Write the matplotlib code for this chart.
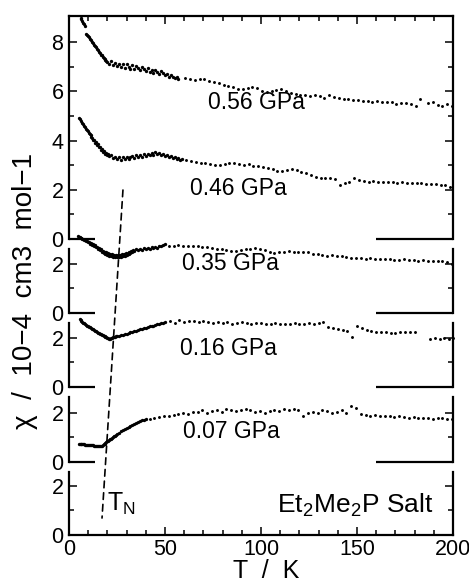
import matplotlib
matplotlib.use('Agg')
import matplotlib.pyplot as plt
from matplotlib.patches import ConnectionPatch
from matplotlib.ticker import MultipleLocator, FixedLocator

plt.rcParams['font.family'] = ['Liberation Sans', 'DejaVu Sans']
plt.rcParams['mathtext.fontset'] = 'custom'
plt.rcParams['mathtext.rm'] = 'Liberation Sans'

# ---------------- data (T / K, chi / 1e-4 cm3 mol-1) ----------------
p056_low = [(6.0, 9.00), (6.5, 8.93), (7.0, 8.86), (7.5, 8.80), (8.0, 8.72), (8.5, 8.66),
            (9.0, 8.34), (9.5, 8.30), (10.0, 8.24), (10.5, 8.22), (11.0, 8.14), (11.5, 8.10),
            (12.0, 8.02), (12.5, 7.98), (13.0, 7.90), (13.5, 7.84), (14.0, 7.80), (14.5, 7.72),
            (15.0, 7.70), (15.5, 7.60), (16.0, 7.56), (16.5, 7.50), (17.0, 7.46), (17.5, 7.38),
            (18.0, 7.36), (18.5, 7.30), (19.0, 7.28), (19.5, 7.22), (20.0, 7.20),
            (21, 7.12), (22, 7.22), (23, 7.08), (24, 7.16), (25, 7.02), (26, 7.12), (27, 6.98),
            (28, 7.10), (29, 6.94), (30, 7.12), (31, 7.00), (32, 6.92), (33, 7.08), (34, 6.90),
            (35, 7.02), (36, 6.96), (37, 6.86), (38, 6.98), (39, 6.90), (40, 6.84), (41, 6.96),
            (42, 6.80), (43, 6.88), (44, 6.76), (45, 6.86), (46, 6.80), (47, 6.70), (48, 6.82),
            (49, 6.74), (50, 6.66), (51, 6.72), (52, 6.60), (53, 6.66), (54, 6.60), (55, 6.54),
            (56, 6.60), (57, 6.50)]
p056_high = [(60.5, 6.55), (63, 6.50), (65.5, 6.45), (68, 6.50), (70.5, 6.52), (73, 6.44),
             (75.5, 6.38), (78, 6.34), (80.5, 6.28), (83, 6.20), (85.5, 6.16), (88, 6.10),
             (90.5, 6.10), (93, 6.14), (95.5, 6.18), (98, 6.14), (100.5, 6.02), (103, 5.96),
             (105.5, 6.00), (108, 6.04), (110.5, 6.08), (113, 6.00), (115.5, 5.94), (118, 5.90),
             (120.5, 5.86), (123, 5.84), (125.5, 5.80), (128, 5.84), (130.5, 5.80), (133, 5.72),
             (135.5, 5.86), (138, 5.78), (140.5, 5.72), (143, 5.70), (145.5, 5.70), (148, 5.66),
             (150.5, 5.66), (153, 5.62), (155.5, 5.60), (158, 5.58), (160.5, 5.60), (163, 5.56),
             (165.5, 5.58), (168, 5.56), (170.5, 5.50), (173, 5.52), (175.5, 5.54), (178, 5.50),
             (180.5, 5.42), (183, 5.68), (187, 5.54), (189.5, 5.56), (192, 5.46), (194.5, 5.42),
             (197, 5.48), (199.5, 5.40)]

p046_low = [(5.2, 4.92), (5.7, 4.86), (6.2, 4.79), (6.7, 4.72), (7.2, 4.66), (7.7, 4.60),
            (8.2, 4.54), (8.7, 4.48), (9.2, 4.43), (9.7, 4.38), (10.2, 4.32), (10.7, 4.27),
            (11.2, 4.22), (11.7, 4.15), (12.2, 4.12), (12.7, 4.02), (13.2, 4.04), (13.7, 3.92),
            (14.2, 3.96), (14.7, 3.82), (15.2, 3.86), (15.7, 3.72), (16.2, 3.76), (16.7, 3.62),
            (17.2, 3.66), (17.7, 3.54), (18.2, 3.58), (18.7, 3.46), (19.2, 3.50), (19.7, 3.40),
            (20.2, 3.45), (21, 3.36), (22, 3.40), (23, 3.28), (24, 3.34), (25, 3.24), (26, 3.32),
            (27, 3.22), (28, 3.32), (29, 3.25), (30, 3.34), (31, 3.26), (32, 3.32), (33, 3.36),
            (34, 3.28), (35, 3.40), (36, 3.32), (37, 3.42), (38, 3.34), (39, 3.44), (40, 3.36),
            (41, 3.46), (42, 3.40), (43, 3.48), (44, 3.40), (45, 3.52), (46, 3.44), (47, 3.50),
            (48, 3.40), (49, 3.46), (50, 3.36), (51, 3.42), (52, 3.32), (53, 3.38), (54, 3.28),
            (55, 3.34), (56, 3.26), (57, 3.30), (58, 3.22), (59, 3.26)]
p046_high = [(61, 3.20), (63.5, 3.16), (66, 3.12), (68.5, 3.10), (71, 3.08), (73.5, 3.06),
             (76, 3.02), (78.5, 3.00), (81, 3.04), (83.5, 3.08), (86, 3.10), (88.5, 3.06),
             (91, 3.00), (93.5, 3.04), (96, 2.98), (98.5, 2.96), (101, 2.92), (103.5, 2.88),
             (106, 2.84), (108.5, 2.76), (111, 2.78), (113.5, 2.80), (116, 2.84), (118.5, 2.80),
             (121, 2.72), (123.5, 2.68), (126, 2.60), (128.5, 2.54), (131, 2.50), (133.5, 2.48),
             (136, 2.46), (138.5, 2.42), (141, 2.20), (143.5, 2.26), (146, 2.30), (148.5, 2.48),
             (151, 2.40), (153.5, 2.36), (156, 2.33), (158.5, 2.34), (161, 2.32), (163.5, 2.33),
             (166, 2.31), (168.5, 2.30), (171, 2.29), (173.5, 2.30), (176, 2.28), (178.5, 2.27),
             (181, 2.26), (183.5, 2.27), (186, 2.25), (188.5, 2.22), (191, 2.24), (193.5, 2.18),
             (196, 2.20), (198.5, 2.10)]

p035_low = [(4.5, 3.15), (5, 3.10), (5.5, 3.10), (6, 3.04), (6.5, 3.06), (7, 3.00), (7.5, 3.02),
            (8, 2.96), (8.5, 2.98), (9, 2.92), (9.5, 2.94), (10, 2.88), (10.5, 2.90), (11, 2.82),
            (11.5, 2.86), (12, 2.78), (12.5, 2.80), (13, 2.72), (13.5, 2.76), (14, 2.68),
            (14.5, 2.70), (15, 2.62), (15.5, 2.66), (16, 2.56), (16.5, 2.60), (17, 2.50),
            (17.5, 2.54), (18, 2.44), (18.5, 2.48), (19, 2.40), (19.5, 2.46), (20, 2.36),
            (20.5, 2.42), (21, 2.32), (21.5, 2.40), (22, 2.30), (22.5, 2.38), (23, 2.28),
            (23.5, 2.36), (24, 2.26), (24.5, 2.34), (25, 2.27), (25.5, 2.36), (26, 2.26),
            (26.5, 2.35), (27, 2.28), (27.5, 2.38), (28, 2.30), (28.5, 2.40), (29, 2.32),
            (29.5, 2.42), (30, 2.36), (30.5, 2.44), (31, 2.40), (31.5, 2.50), (32, 2.44),
            (32.5, 2.54), (33, 2.48), (33.5, 2.56), (34, 2.52), (35, 2.60), (36, 2.56), (37, 2.62),
            (38, 2.58), (39, 2.64), (40, 2.60), (41, 2.66), (42, 2.62), (43, 2.68), (44, 2.64),
            (45, 2.70), (46, 2.66), (47, 2.74), (48, 2.72), (49, 2.78), (50, 2.80)]
p035_high = [(52, 2.74), (54.5, 2.72), (57, 2.75), (59.5, 2.72), (62, 2.73), (64.5, 2.71),
             (67, 2.74), (69.5, 2.70), (72, 2.68), (74.5, 2.64), (77, 2.60), (79.5, 2.62),
             (82, 2.56), (84.5, 2.52), (87, 2.54), (89.5, 2.58), (92, 2.60), (94.5, 2.62),
             (97, 2.64), (99.5, 2.60), (102, 2.55), (104.5, 2.48), (107, 2.44), (109.5, 2.48),
             (112, 2.50), (114.5, 2.52), (117, 2.50), (119.5, 2.47), (122, 2.50), (124.5, 2.46),
             (127, 2.40), (129.5, 2.38), (132, 2.34), (134.5, 2.32), (137, 2.36), (139.5, 2.32),
             (142, 2.30), (144.5, 2.27), (147, 2.25), (149.5, 2.24), (152, 2.22), (154.5, 2.20),
             (157, 2.22), (159.5, 2.20), (162, 2.18), (164.5, 2.20), (167, 2.19), (169.5, 2.16),
             (172, 2.15), (174.5, 2.18), (177, 2.14), (179.5, 2.15), (182, 2.13), (184.5, 2.14),
             (187, 2.11), (189.5, 2.13), (192, 2.10), (194.5, 2.12), (197, 2.06), (199.5, 2.00)]

p016_low = [(5.5, 2.75), (6, 2.72), (6.5, 2.68), (7, 2.65), (7.5, 2.62), (8, 2.60), (8.5, 2.56),
            (9, 2.54), (9.5, 2.50), (10, 2.48), (10.5, 2.45), (11, 2.42), (11.5, 2.40), (12, 2.37),
            (12.5, 2.34), (13, 2.32), (13.5, 2.29), (14, 2.26), (14.5, 2.24), (15, 2.21),
            (15.5, 2.19), (16, 2.16), (16.5, 2.14), (17, 2.12), (17.5, 2.10), (18, 2.08),
            (18.5, 2.06), (19, 2.04), (19.5, 2.02), (20, 2.00), (20.5, 1.98), (21, 1.97),
            (21.5, 1.96), (22, 1.99), (22.5, 2.01), (23, 2.02), (23.5, 2.03), (24, 2.05),
            (24.5, 2.06), (25, 2.07), (26, 2.09), (27, 2.11), (28, 2.13), (29, 2.15), (30, 2.17),
            (31, 2.20), (32, 2.22), (33, 2.24), (34, 2.26), (35, 2.29), (36, 2.31), (37, 2.34),
            (38, 2.36), (39, 2.39), (40, 2.41), (41, 2.44), (42, 2.46), (43, 2.48), (44, 2.50),
            (45, 2.52), (46, 2.55), (47, 2.57), (48, 2.60), (49, 2.62), (50, 2.65)]
p016_high = [(52.5, 2.68), (55, 2.62), (57.5, 2.72), (60, 2.65), (62.5, 2.70), (65, 2.68),
             (67.5, 2.64), (70, 2.70), (72.5, 2.65), (75, 2.62), (77.5, 2.66), (80, 2.60),
             (82.5, 2.63), (85, 2.58), (87.5, 2.61), (90, 2.64), (92.5, 2.60), (95, 2.57),
             (97.5, 2.62), (100, 2.60), (102.5, 2.56), (105, 2.58), (107.5, 2.62), (110, 2.58),
             (112.5, 2.55), (115, 2.58), (117.5, 2.60), (120, 2.56), (122.5, 2.58), (125, 2.62),
             (127.5, 2.58), (130, 2.60), (132.5, 2.64), (135, 2.42), (137.5, 2.38), (140, 2.34),
             (142.5, 2.30), (145, 2.26), (147.5, 2.02), (150, 2.46), (152.5, 2.40), (155, 2.30),
             (157.5, 2.26), (160, 2.24), (162.5, 2.22), (165, 2.23), (167.5, 2.21), (170, 2.20),
             (172.5, 2.22), (175, 2.24), (177.5, 2.22), (180, 2.25), (188, 1.96), (190.5, 1.99),
             (193, 1.95), (195.5, 2.00), (198, 1.97), (200, 2.00)]

p007_low = [(5, 0.75), (5.5, 0.74), (6, 0.74), (6.5, 0.73), (7, 0.73), (7.5, 0.72), (8, 0.72),
            (8.5, 0.71), (9, 0.71), (9.5, 0.70), (10, 0.70), (10.5, 0.70), (11, 0.69), (11.5, 0.69),
            (12, 0.68), (12.5, 0.68), (13, 0.67), (13.5, 0.67), (14, 0.66), (14.5, 0.66),
            (15, 0.65), (15.5, 0.65), (16, 0.64), (16.5, 0.64), (17, 0.65), (17.5, 0.68),
            (18, 0.72), (18.5, 0.75), (19, 0.78), (19.5, 0.81), (20, 0.84), (20.5, 0.87),
            (21, 0.89), (21.5, 0.92), (22, 0.95), (22.5, 0.98), (23, 1.01), (23.5, 1.04),
            (24, 1.07), (24.5, 1.10), (25, 1.13), (26, 1.18), (27, 1.24), (28, 1.29), (29, 1.34),
            (30, 1.39), (31, 1.44), (32, 1.48), (33, 1.52), (34, 1.56), (35, 1.60), (36, 1.63),
            (37, 1.66), (38, 1.69), (39, 1.72), (40, 1.75)]
p007_high = [(42, 1.76), (44.5, 1.80), (47, 1.84), (49.5, 1.86), (52, 1.88), (54.5, 1.92),
             (57, 1.94), (59.5, 1.98), (62, 1.96), (64.5, 2.02), (67, 2.04), (69.5, 2.10),
             (72, 2.00), (74.5, 2.08), (77, 2.12), (79.5, 2.04), (82, 2.14), (84.5, 2.10),
             (87, 2.06), (89.5, 2.12), (92, 2.16), (94.5, 2.10), (97, 2.04), (99.5, 2.08),
             (102, 1.98), (104.5, 2.06), (107, 2.12), (109.5, 2.08), (112, 2.14), (114.5, 2.10),
             (117, 2.16), (119.5, 2.12), (122, 1.88), (124.5, 2.00), (127, 2.04), (129.5, 1.98),
             (132, 2.10), (134.5, 2.06), (137, 2.00), (139.5, 2.04), (142, 2.10), (144.5, 2.00),
             (147, 2.28), (149.5, 2.20), (152, 1.96), (154.5, 1.92), (157, 1.88), (159.5, 1.90),
             (162, 1.88), (164.5, 1.86), (167, 1.88), (169.5, 1.84), (172, 1.86), (174.5, 1.84),
             (177, 1.80), (179.5, 1.82), (182, 1.78), (184.5, 1.80), (187, 1.78), (189.5, 1.74),
             (192, 1.80), (194.5, 1.78), (197, 1.76), (199.5, 1.74)]

pressure_labels = ["0.56 GPa", "0.46 GPa", "0.35 GPa", "0.16 GPa", "0.07 GPa"]
x_ticks = [0, 50, 100, 150, 200]

# ---------------- layout ----------------
W, H = 469, 581
fig = plt.figure(figsize=(W / 100, H / 100), dpi=100)
XL, XR = 69, 453
PX_PER_UNIT = 24.6


def make_ax(top, bottom):
    ax = fig.add_axes([XL / W, 1 - bottom / H, (XR - XL) / W, (bottom - top) / H])
    ax.set_xlim(0, 200)
    ax.set_ylim(0, (bottom - top) / PX_PER_UNIT)
    return ax


ax_top = make_ax(16, 239)
ax2 = make_ax(249, 313)
ax3 = make_ax(323, 387)
ax4 = make_ax(397, 462)
ax5 = make_ax(472, 535)
all_axes = [ax_top, ax2, ax3, ax4, ax5]

LW = 1.6
for ax in all_axes:
    for s in ax.spines.values():
        s.set_linewidth(LW)
    ax.spines['top'].set_visible(ax is ax_top)
    ax.spines['bottom'].set_visible(ax is ax5)
    ax.tick_params(which='both', direction='in', width=1.1, labelsize=15.5,
                   left=True, right=True, top=False, bottom=False,
                   labelbottom=False, pad=4)
    ax.tick_params(which='major', length=6)
    ax.tick_params(which='minor', length=3.5)
    ax.xaxis.set_minor_locator(MultipleLocator(10))
    ax.xaxis.set_major_locator(FixedLocator(x_ticks))
    if ax is not ax5:
        # partial baseline segments
        ax.plot([0, 13.5], [0, 0], color='k', lw=LW, clip_on=False, solid_capstyle='butt')
        ax.plot([160, 200], [0, 0], color='k', lw=LW, clip_on=False, solid_capstyle='butt')

ax_top.yaxis.set_major_locator(FixedLocator([0, 2, 4, 6, 8]))
ax_top.yaxis.set_minor_locator(FixedLocator([1, 3, 5, 7]))
ax_top.tick_params(axis='x', which='both', top=True)
for ax in [ax2, ax3, ax4, ax5]:
    ax.yaxis.set_major_locator(FixedLocator([0, 2]))
    ax.yaxis.set_minor_locator(FixedLocator([1]))
ax5.tick_params(axis='x', which='both', bottom=True, labelbottom=True, pad=3)


def draw(ax, low, high):
    ax.plot([p[0] for p in low], [p[1] for p in low], 'o', ms=2.4, mec='none', color='k', clip_on=False)
    ax.plot([p[0] for p in high], [p[1] for p in high], 'o', ms=2.1, mec='none', color='k', clip_on=False)


draw(ax_top, p056_low, p056_high)
draw(ax_top, p046_low, p046_high)
draw(ax2, p035_low, p035_high)
draw(ax3, p016_low, p016_high)
draw(ax4, p007_low, p007_high)

FS = 16.5
ax_top.text(72.4, 5.3, pressure_labels[0], fontsize=FS, va='baseline')
ax_top.text(63.0, 1.79, pressure_labels[1], fontsize=FS, va='baseline')
ax2.text(58.9, 1.75, pressure_labels[2], fontsize=FS, va='baseline')
ax3.text(57.8, 1.30, pressure_labels[3], fontsize=FS, va='baseline')
ax4.text(59.4, 0.98, pressure_labels[4], fontsize=FS, va='baseline')

ax5.text(189.5, 0.9, r"Et$_\mathregular{2}$Me$_\mathregular{2}$P Salt", fontsize=19,
         ha='right', va='baseline')
ax5.text(19.6, 1.0, r"T$_\mathregular{N}$", fontsize=18, va='baseline')

# T_N dashed guide across panels
con = ConnectionPatch(xyA=(28.1, 1.99), coordsA=ax_top.transData,
                      xyB=(17.2, 0.69), coordsB=ax5.transData,
                      linestyle=(0, (4, 3)), lw=1.2, color='k')
fig.add_artist(con)

fig.text(25 / W, 1 - 291 / H, "χ  /  10−4  cm3  mol−1", rotation=90,
         ha='center', va='center', fontsize=20)
fig.text(266 / W, 1 - 578 / H, "T  /  K", ha='center', va='baseline', fontsize=18)

fig.savefig("out.png", dpi=100)
